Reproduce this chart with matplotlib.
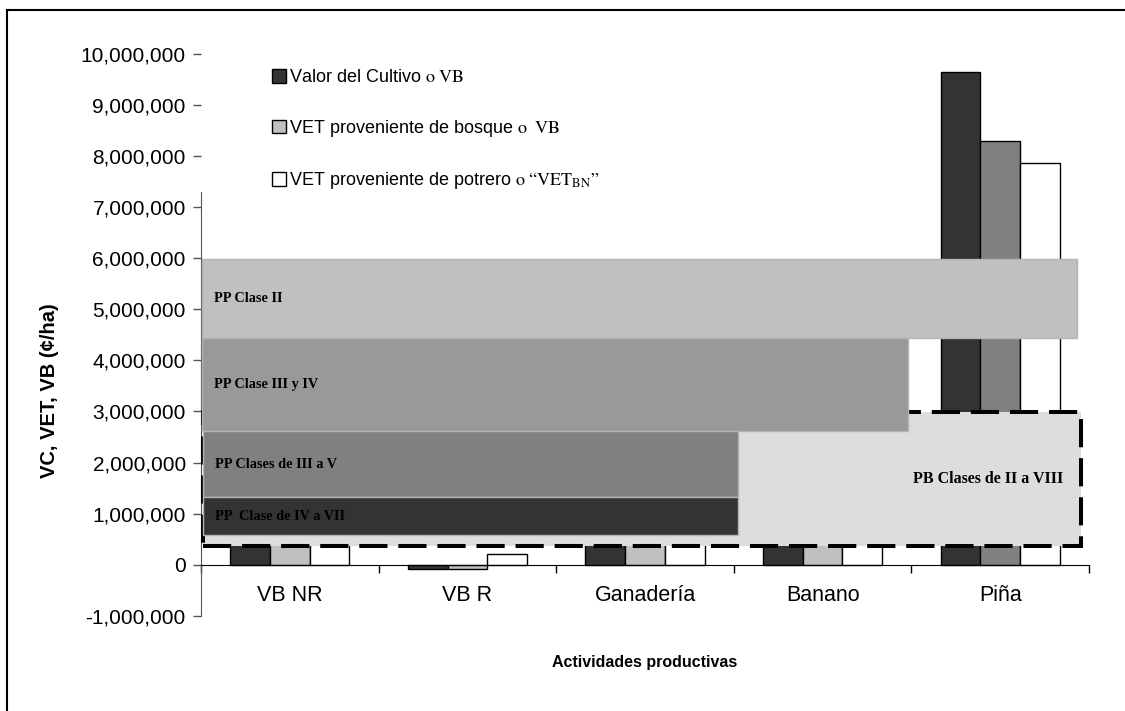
import matplotlib.pyplot as plt
import matplotlib.ticker as mticker
from matplotlib.patches import Rectangle, Patch
from matplotlib.lines import Line2D
import numpy as np

plt.rcParams['font.family'] = 'Liberation Sans'
plt.rcParams['mathtext.fontset'] = 'stix'

# categories and series values (colones per ha)
actividades = ['VB NR', 'VB R', 'Ganadería', 'Banano', 'Piña']
valor_cultivo = [1000000, -90000, 800000, 1500000, 9650000]
vet_bosque = [1000000, -90000, 800000, 1500000, 8290000]
vet_potrero = [1000000, 210000, 800000, 1500000, 7860000]

# price bands: label, x start, x end, y low, y high, colour
bandas_pp = [
    ('PP Clase II', -0.495, 4.435, 4430000, 5980000, '#c0c0c0'),
    ('PP Clase III y IV', -0.495, 3.48, 2610000, 4430000, '#999999'),
    ('PP Clases de III a V', -0.49, 2.525, 1320000, 2610000, '#808080'),
    ('PP  Clase de IV a VII', -0.49, 2.525, 575000, 1320000, '#333333'),
]
banda_pb = ('PB Clases de II a VIII', -0.49, 4.455, 360000, 2980000, '#dddddd')

fig = plt.figure(figsize=(11.25, 7.11), dpi=100)
ax = fig.add_axes([0.1787, 0.134, 0.7893, 0.790])

x = np.arange(len(actividades))
w = 0.2235
ax.bar(x - w, valor_cultivo, w, color='#333333', edgecolor='black', linewidth=1, zorder=2)
colores_bosque = ['#c0c0c0'] * 4 + ['#808080']
ax.bar(x, vet_bosque, w, color=colores_bosque, edgecolor='black', linewidth=1, zorder=2)
ax.bar(x + w, vet_potrero, w, color='white', edgecolor='black', linewidth=1, zorder=2)

# PB band with thick dashed outline
lbl, x0, x1, y0, y1, c = banda_pb
ax.add_patch(Rectangle((x0, y0), x1 - x0, y1 - y0, facecolor=c, edgecolor='black',
                       linewidth=2.9, linestyle=(0, (7, 2.7)), zorder=3))
ax.text(x1 - 0.1, (y0 + y1) / 2, lbl, ha='right', va='center', fontsize=11.5,
        fontweight='bold', family='Liberation Serif', zorder=6)

for lbl, x0, x1, y0, y1, c in bandas_pp:
    ax.add_patch(Rectangle((x0, y0), x1 - x0, y1 - y0, facecolor=c, edgecolor='#b4b4b4',
                           linewidth=1, zorder=4))
    ax.text(x0 + 0.07, (y0 + y1) / 2, lbl, ha='left', va='center', fontsize=10.3,
            fontweight='bold', family='Liberation Serif', color='black', zorder=6)

ax.set_xlim(-0.5, 4.5)
ax.set_ylim(-1000000, 10000000)
ax.set_yticks(np.arange(-1000000, 10000001, 1000000))
ax.yaxis.set_major_formatter(mticker.FuncFormatter(lambda v, p: f'{v:,.0f}'))
ax.tick_params(axis='y', direction='out', length=6, width=1, labelsize=15, pad=5,
               color='#555555')

ax.set_xticks(np.arange(-0.5, 5, 1))
ax.set_xticklabels([])
ax.set_xticks(x, minor=True)
ax.set_xticklabels(actividades, minor=True)
ax.tick_params(axis='x', which='major', direction='out', length=6, width=1)
ax.tick_params(axis='x', which='minor', length=0, labelsize=15.5, pad=15)

for s in ['top', 'right']:
    ax.spines[s].set_visible(False)
ax.spines['bottom'].set_position(('data', 0))
ax.spines['left'].set_color('#555555')
ax.spines['left'].set_bounds(-1000000, 7300000)

ax.set_ylabel('VC, VET, VB (¢/ha)', fontsize=14.5, fontweight='bold')
ax.yaxis.set_label_coords(-0.160, 0.40)
ax.set_xlabel('Actividades productivas', fontsize=11.5, fontweight='bold')
ax.xaxis.set_label_coords(0.5, -0.07)

handles = [Patch(facecolor='#333333', edgecolor='black'),
           Patch(facecolor='#c0c0c0', edgecolor='black'),
           Patch(facecolor='white', edgecolor='black')]
labels = [r'Valor del Cultivo $\mathrm{o\ VB}$',
          r'VET proveniente de bosque $\mathrm{o\ \ VB}$',
          r'VET proveniente de potrero $\mathrm{o\ “VET_{BN}”}$']
leg = fig.legend(handles, labels, loc='upper left',
                 bbox_to_anchor=(272 / 1125, 1 - 69 / 711), bbox_transform=fig.transFigure,
                 fontsize=13, frameon=False, handlelength=0.8, handleheight=0.8,
                 handletextpad=0.15, labelspacing=1.75, borderaxespad=0, borderpad=0)

# outer frame of the figure
fig.add_artist(Line2D([7 / 1125, 1.0], [1 - 10 / 711] * 2, color='black', lw=1.5))
fig.add_artist(Line2D([7 / 1125] * 2, [0.0, 1 - 10 / 711], color='black', lw=1.5))

fig.savefig('out.png', dpi=100)
